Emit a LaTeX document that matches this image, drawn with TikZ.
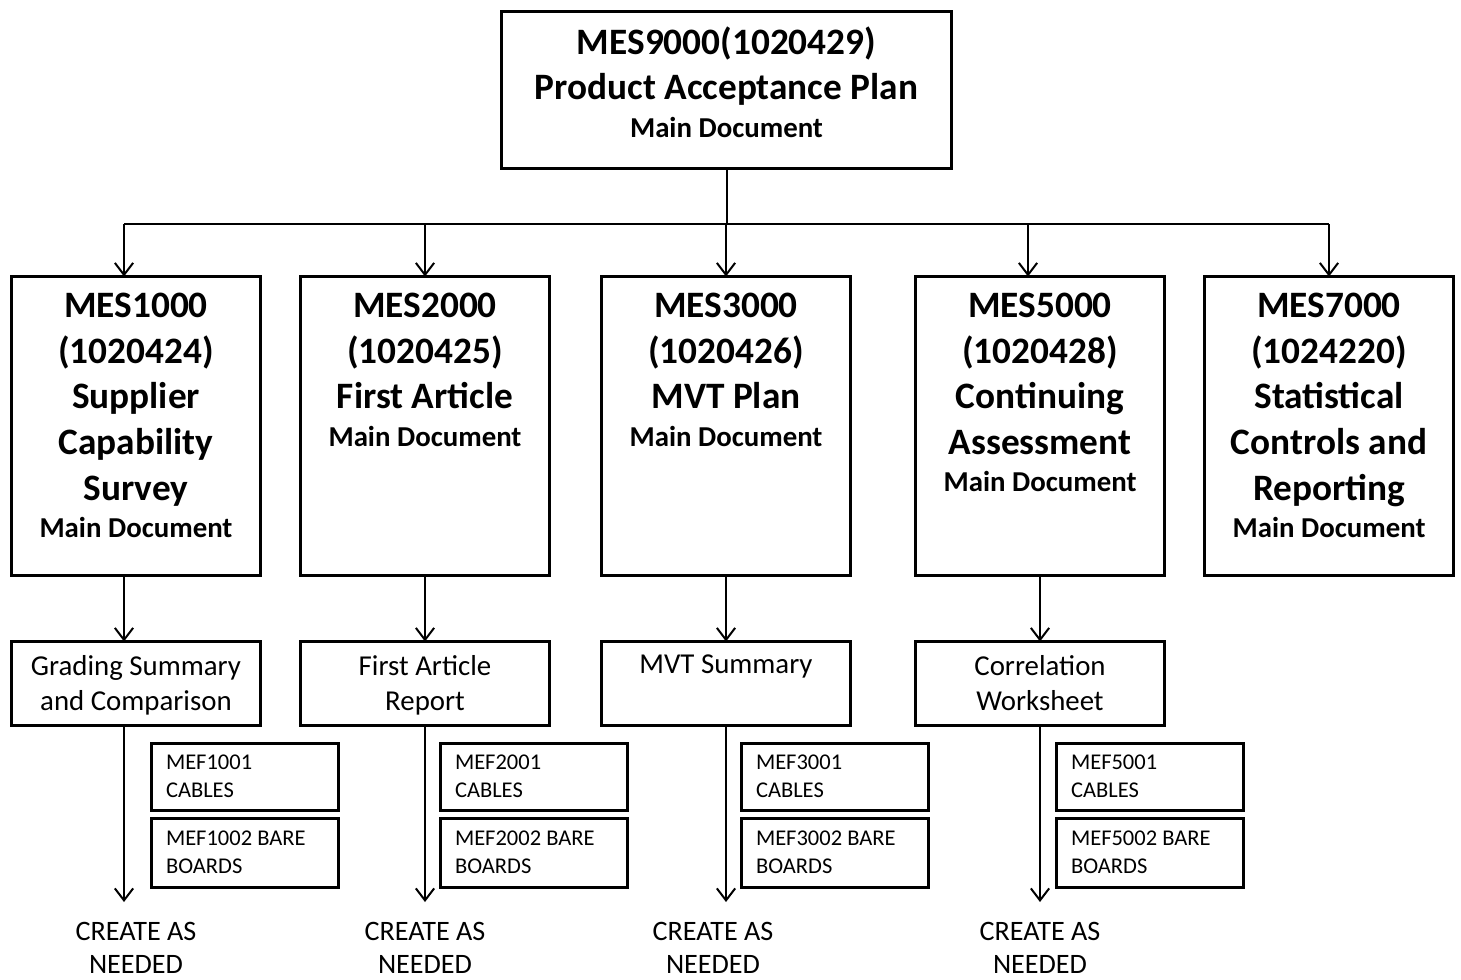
\documentclass[tikz,border=0pt]{standalone}
\usepackage{fontspec}
\setmainfont{Carlito}
\usetikzlibrary{positioning,arrows.meta}
\newcommand{\docfont}{\fontsize{8.2}{10}\selectfont}

\begin{document}
\begin{tikzpicture}[x=0.01cm, y=-0.01cm, line width=.2mm,
            mainblock/.style={
            draw,
            line width=.3mm,
            rectangle,
            minimum width=2.49cm,
            minimum height=2.99cm,
            inner sep=0},
            subblock/.style={
            draw,
            line width=.3mm,
            rectangle,
            minimum width=2.49cm,
            minimum height=0.84cm,
            inner sep=0},
            formblock/.style={
            draw,
            line width=.3mm,
            rectangle,
            minimum height=0.67cm,
            text width=1.57cm,
            inner xsep=0.15cm,
            inner ysep=0,
            align=flush left,
            font=\fontsize{6.4}{7.9}\selectfont},
            titletext/.style={
            align=center,
            inner sep=0,
            font=\bfseries\fontsize{10.6}{12.95}\selectfont},
            subtext/.style={
            align=center,
            inner sep=0,
            font=\fontsize{8.2}{10}\selectfont},
            needtext/.style={
            align=center,
            inner sep=0,
            font=\fontsize{8}{9.4}\selectfont},
            feed/.style={-{Straight Barb[length=3.4pt,width=5.2pt]}}]

           \useasboundingbox (0,0) rectangle (1461,979);

           % acceptance plan on top
           \node[mainblock, minimum width=4.50cm, minimum height=1.57cm] (pap) at (726.5,90) {};
           \node[titletext, below=0.155cm of pap.north] (paptxt) {MES9000(1020429)\\Product Acceptance Plan\\[-2.3pt]{\docfont Main Document}};
           \coordinate (bus) at (726.5,224);
           \draw (pap.south) -- (bus);

           \foreach \i/\x/\ax/\txt in {1/136/124/{MES1000\\(1020424)\\Supplier\\Capability\\Survey},
                                       2/425/425/{MES2000\\(1020425)\\First Article},
                                       3/726/726/{MES3000\\(1020426)\\MVT Plan},
                                       5/1040/1028/{MES5000\\(1020428)\\Continuing\\Assessment},
                                       7/1329/1329/{MES7000\\(1024220)\\Statistical\\Controls and\\Reporting}}
           {
                      \node[mainblock] (mes\i) at (\x,426) {};
                      \node[titletext, below=0.175cm of mes\i.north] (mestxt\i) {\txt\\[-2.3pt]{\docfont Main Document}};
                      \coordinate (in\i) at (\ax,276.5);
                      \draw[feed] (in\i |- bus) -- (in\i);
           }
           \draw (in1 |- bus) -- (in7 |- bus);

           % worksheets and forms
           \foreach \i/\x/\bx/\fx/\cx/\txt in {1/136/124/149.5/136/{Grading Summary\\and Comparison},
                                               2/425/425/438.5/425/{First Article\\Report},
                                               3/726/726/739.5/713/{MVT Summary},
                                               5/1040/1040/1054.5/1040/{Correlation\\Worksheet}}
           {
                      \node[subblock] (sub\i) at (\x,683.5) {};
                      \node[subtext, below=0.14cm of sub\i.north] (subtxt\i) {\txt};
                      \coordinate (subin\i) at (\bx,641.5);
                      \coordinate (subout\i) at (\bx,725.5);
                      \coordinate (end\i) at (\bx,902);
                      \draw[feed] (subin\i |- mes\i.south) -- (subin\i);
                      \draw[feed] (subout\i) -- (end\i);
                      \node[formblock, anchor=north west] (cab\i) at (\fx,741.5) {MEF\i001\\CABLES};
                      \node[formblock, anchor=north west, minimum height=0.69cm] (bb\i) at (\fx,816.5) {MEF\i002 BARE\\BOARDS};
                      \node[needtext, anchor=north] (need\i) at (\cx,921) {CREATE AS\\NEEDED};
           }
\end{tikzpicture}
\end{document}
